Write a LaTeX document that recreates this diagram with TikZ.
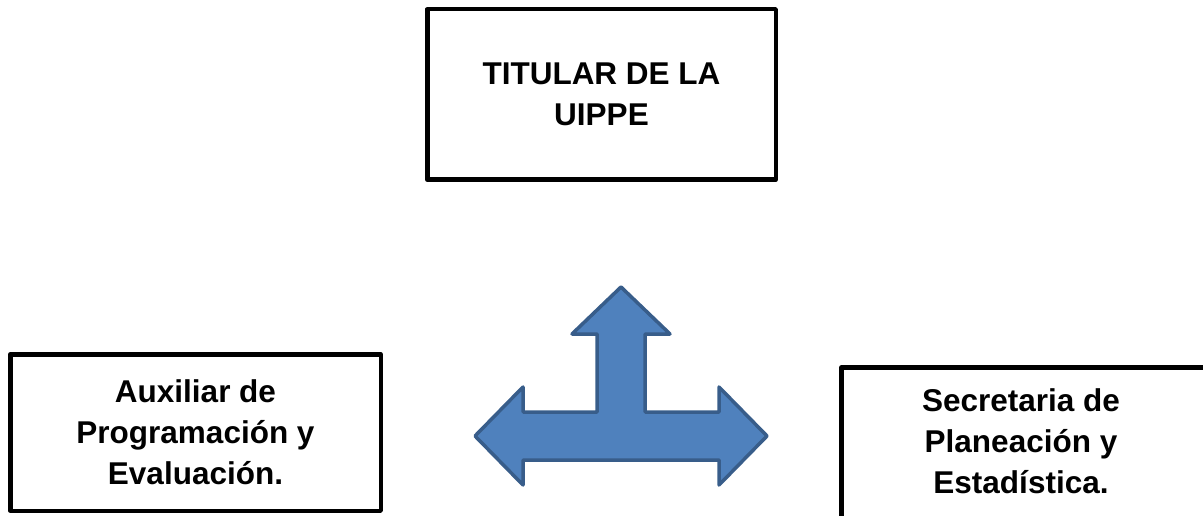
\documentclass[tikz,border=0pt]{standalone}
\usepackage{fontspec}
\setmainfont{Liberation Sans}
\definecolor{azulrelleno}{HTML}{4F81BD}
\definecolor{azulborde}{HTML}{385D8A}

\begin{document}
\begin{tikzpicture}[
    x=1pt, y=-1pt,
    line join=round,
    texto/.style={inner sep=0pt, align=center,
      font=\bfseries\fontsize{31.5}{41}\selectfont},
    caja/.style={texto, draw, line width=4.5pt, rectangle},
    flecha/.style={draw=azulborde, fill=azulrelleno, line width=3.5pt}
]
  \useasboundingbox (0,0) rectangle (1203,516);
  % cajas
  \node[caja, minimum width=348.5, minimum height=170.5] (titular)
    at (601.5,94.5) {TITULAR DE LA\\UIPPE};
  \node[caja, minimum width=370.5, minimum height=156.5] (auxiliar)
    at (195.5,432.5) {Auxiliar de\\Programación y\\Evaluación.};
  % la caja derecha sale del cuadro
  \node[caja, anchor=north west, minimum width=420, minimum height=200] (secretaria)
    at (839.25,365.25) {};
  \node[texto] (secretariatxt)
    at (1021,440.8) {Secretaria de\\Planeación y\\Estadística.};
  % flecha de tres puntas
  \draw[flecha]
    (621,287) -- (670,334) -- (645,334) -- (645,412)
    -- (719,412) -- (719,387) -- (767,436) -- (719,485) -- (719,460)
    -- (523,460) -- (523,485) -- (475,436) -- (523,387) -- (523,412)
    -- (597,412) -- (597,334) -- (572,334) -- cycle
  ;
\end{tikzpicture}
\end{document}
